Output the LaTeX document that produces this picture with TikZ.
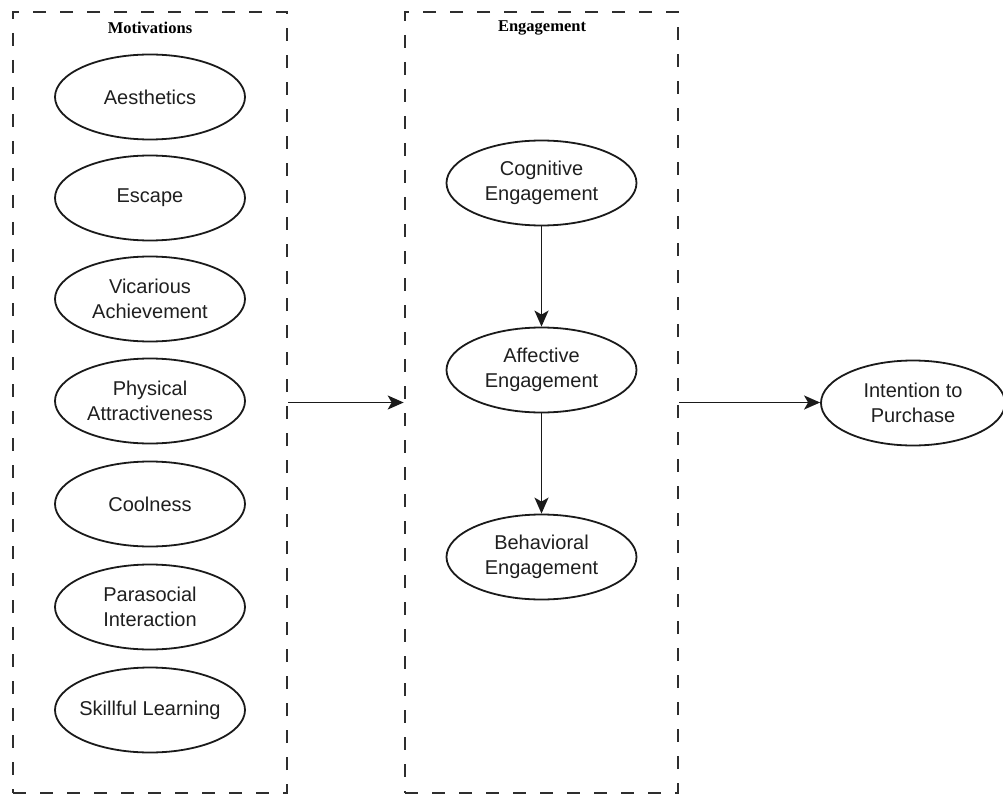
\documentclass[tikz,border=0pt]{standalone}
\usepackage{fontspec}
\setmainfont{Liberation Sans}
\newfontfamily\titlefont{Liberation Serif}
\usetikzlibrary{shapes.geometric,arrows.meta}
\definecolor{linecol}{HTML}{1A1A1A}
\definecolor{dashcol}{HTML}{2E2E2E}
\tikzset{
  oval/.style={ellipse, draw=linecol, line width=1.8pt, minimum width=190pt, minimum height=85pt, inner sep=0pt, align=center, font=\fontsize{20}{25}\selectfont, text=black!88},
  groupbox/.style={rectangle, draw=dashcol, line width=2.6pt, dash pattern=on 13pt off 14pt, inner sep=0pt},
  grouptitle/.style={font=\titlefont\bfseries\fontsize{16.5}{20}\selectfont},
  arr/.style={draw=linecol, line width=1.8pt, -{Stealth[length=16pt, width=14pt, inset=4pt]}},
}
\begin{document}
\begin{tikzpicture}[x=1pt,y=-1pt]
\useasboundingbox (0,0) rectangle (1003,794);
% group boxes
\node[groupbox, minimum width=274pt, minimum height=781pt] (motbox) at (150,402.5) {};
\node[groupbox, minimum width=273pt, minimum height=781pt] (engbox) at (541.5,402.5) {};
\node[grouptitle] (mottitle) at (150,28) {Motivations};
\node[grouptitle] (engtitle) at (542,28) {Engagement};
% motivations
\node[oval] (aes) at (150,97) {Aesthetics};
\node[oval] (esc) at (150,198) {Escape};
\node[oval] (vic) at (150,299) {Vicarious\\Achievement};
\node[oval] (phy) at (150,401) {Physical\\Attractiveness};
\node[oval] (coo) at (150,504) {Coolness};
\node[oval] (par) at (150,607) {Parasocial\\Interaction};
\node[oval] (ski) at (150,710) {\makebox[120pt]{Skillful Learning}};
% engagement
\node[oval] (cog) at (541.5,183) {Cognitive\\Engagement};
\node[oval] (aff) at (541.5,370) {Affective\\Engagement};
\node[oval] (beh) at (541.5,557) {Behavioral\\Engagement};
% outcome
\node[oval, minimum width=184pt] (int) at (913,403) {Intention to\\Purchase};
% connectors
\draw[arr] (cog) -- (aff);
\draw[arr] (aff) -- (beh);
\draw[arr] (motbox.east) -- (engbox.west);
\draw[arr] (engbox.east) -- (engbox.east -| int.west);
\end{tikzpicture}
\end{document}
